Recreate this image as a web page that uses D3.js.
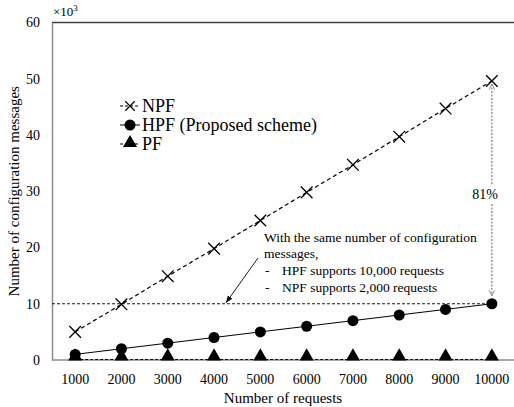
<!DOCTYPE html>
<html>
<head>
<meta charset="utf-8">
<script src="https://cdn.jsdelivr.net/npm/d3@7"></script>
<style>
  html, body { margin: 0; padding: 0; background: #fff; }
</style>
</head>
<body>
<div id="chart"></div>
<script>
'use strict';

// data (values in thousands of messages)
const requests = ["1000", "2000", "3000", "4000", "5000", "6000", "7000", "8000", "9000", "10000"];
const npfValues = [5.0, 9.9, 14.9, 19.8, 24.8, 29.8, 34.7, 39.7, 44.7, 49.6];
const hpfValues = [1.0, 2.0, 3.0, 4.0, 5.0, 6.0, 7.0, 8.0, 9.0, 10.0];
const pfValues = [0.1, 0.1, 0.1, 0.1, 0.1, 0.1, 0.1, 0.1, 0.1, 0.1];
const yTicks = [0, 10, 20, 30, 40, 50, 60];
const legendNames = ["NPF", "HPF (Proposed scheme)", "PF"];
const noteLines = ["With the same number of configuration", "messages,", "HPF supports 10,000 requests", "NPF supports 2,000 requests"];
const gapLabel = "81%";

const FONT = "'Liberation Serif', Tinos, 'Times New Roman', 'DejaVu Serif', serif";
const W = 514, H = 407;
const margin = { top: 22.5, right: -1, bottom: 47, left: 52 };

const svg = d3.select("#chart").append("svg")
    .attr("width", W).attr("height", H)
    .attr("font-family", FONT);

const defs = svg.append("defs");
defs.append("marker")
    .attr("id", "arrowSolid")
    .attr("viewBox", "0 0 10 10").attr("refX", 10).attr("refY", 5)
    .attr("markerWidth", 7).attr("markerHeight", 7)
    .attr("markerUnits", "userSpaceOnUse")
    .attr("orient", "auto")
    .append("path").attr("d", "M0,1 L10,5 L0,9 Z").attr("fill", "#000");
defs.append("marker")
    .attr("id", "arrowOpen")
    .attr("viewBox", "0 0 10 10").attr("refX", 9).attr("refY", 5)
    .attr("markerWidth", 7).attr("markerHeight", 7)
    .attr("markerUnits", "userSpaceOnUse")
    .attr("orient", "auto-start-reverse")
    .append("path").attr("d", "M1,1 L9,5 L1,9").attr("fill", "none")
    .attr("stroke", "#888").attr("stroke-width", 1.3);

// scales
const x = d3.scaleBand().domain(requests)
    .range([margin.left, W - margin.right]).padding(0);
const y = d3.scaleLinear().domain([0, 60])
    .range([H - margin.bottom, margin.top]);
const cx = d => x(d) + x.bandwidth() / 2;

// top frame line
svg.append("line")
    .attr("x1", margin.left).attr("x2", W)
    .attr("y1", y(60)).attr("y2", y(60))
    .attr("stroke", "#404040").attr("stroke-width", 1.3);

// y axis
const yAxis = svg.append("g")
    .attr("transform", "translate(" + margin.left + ",0)")
    .call(d3.axisLeft(y).tickValues(yTicks).tickSize(0).tickPadding(12));
yAxis.attr("font-family", FONT).attr("font-size", 14);
yAxis.select(".domain").attr("stroke", "#8c8c8c").attr("stroke-width", 1.5);

// x axis
const xAxis = svg.append("g")
    .attr("transform", "translate(0," + y(0) + ")")
    .call(d3.axisBottom(x).tickSize(0).tickPadding(14));
xAxis.attr("font-family", FONT).attr("font-size", 14);
xAxis.select(".domain").attr("stroke", "#8c8c8c").attr("stroke-width", 1.5)
    .attr("d", "M" + margin.left + ",0H" + W);

// axis titles
svg.append("text")
    .attr("x", 283).attr("y", 403)
    .attr("text-anchor", "middle").attr("font-size", 15)
    .text("Number of requests");
svg.append("text")
    .attr("transform", "translate(19," + ((y(0) + y(60)) / 2) + ") rotate(-90)")
    .attr("text-anchor", "middle").attr("font-size", 15)
    .text("Number of configuration messages");

// x10^3 multiplier
const mult = svg.append("text")
    .attr("x", 53).attr("y", 16).attr("font-size", 13);
mult.append("tspan").text("\u00d710");
mult.append("tspan").attr("dy", -5).attr("font-size", 9).text("3");

// reference line at HPF value for 10,000 requests
const last = requests[requests.length - 1];
svg.append("line")
    .attr("x1", margin.left).attr("x2", cx(last))
    .attr("y1", y(hpfValues[9])).attr("y2", y(hpfValues[9]))
    .attr("stroke", "#000").attr("stroke-width", 0.9)
    .attr("stroke-dasharray", "3,2");

// 81% gap arrow
const gapX = cx(last);
svg.append("line")
    .attr("x1", gapX).attr("x2", gapX)
    .attr("y1", y(npfValues[9]) + 3).attr("y2", 184)
    .attr("stroke", "#888").attr("stroke-width", 1.3)
    .attr("stroke-dasharray", "2,1.5")
    .attr("marker-start", "url(#arrowOpen)");
svg.append("line")
    .attr("x1", gapX).attr("x2", gapX)
    .attr("y1", 204).attr("y2", y(hpfValues[9]) - 8)
    .attr("stroke", "#888").attr("stroke-width", 1.3)
    .attr("stroke-dasharray", "2,1.5")
    .attr("marker-end", "url(#arrowOpen)");
svg.append("text")
    .attr("x", 485).attr("y", 199)
    .attr("text-anchor", "middle").attr("font-size", 14)
    .text(gapLabel);

// series lines
const line = d3.line().x((d, i) => cx(requests[i])).y(d => y(d));
svg.append("path").datum(pfValues)
    .attr("d", line).attr("fill", "none")
    .attr("stroke", "#000").attr("stroke-width", 1.1).attr("stroke-dasharray", "3,2");
svg.append("path").datum(hpfValues)
    .attr("d", line).attr("fill", "none")
    .attr("stroke", "#000").attr("stroke-width", 1);
svg.append("path").datum(npfValues)
    .attr("d", line).attr("fill", "none")
    .attr("stroke", "#000").attr("stroke-width", 1.2).attr("stroke-dasharray", "4,3");

// markers
const cross = d3.symbol().type(d3.symbolX).size(90);
const tri = d3.symbol().type(d3.symbolTriangle).size(85);
svg.selectAll(".npf").data(npfValues).enter().append("path")
    .attr("class", "npf")
    .attr("transform", (d, i) => "translate(" + cx(requests[i]) + "," + y(d) + ")")
    .attr("d", cross).attr("fill", "none").attr("stroke", "#000").attr("stroke-width", 1.3);
svg.selectAll(".hpf").data(hpfValues).enter().append("circle")
    .attr("class", "hpf")
    .attr("cx", (d, i) => cx(requests[i])).attr("cy", d => y(d))
    .attr("r", 5.5).attr("fill", "#000");
svg.selectAll(".pf").data(pfValues).enter().append("path")
    .attr("class", "pf")
    .attr("transform", (d, i) => "translate(" + cx(requests[i]) + "," + (y(d) - 3) + ")")
    .attr("d", tri).attr("fill", "#000");

// legend
const legendY = [106, 125, 144];
const lg = svg.append("g");
legendNames.forEach((name, i) => {
    const ly = legendY[i];
    lg.append("line")
        .attr("x1", 120).attr("x2", 140).attr("y1", ly).attr("y2", ly)
        .attr("stroke", "#000").attr("stroke-width", 1)
        .attr("stroke-dasharray", i === 1 ? null : "3,2");
    if (i === 0) {
        lg.append("path").attr("transform", "translate(130," + ly + ")")
            .attr("d", d3.symbol().type(d3.symbolX).size(60))
            .attr("fill", "none").attr("stroke", "#000").attr("stroke-width", 1.2);
    } else if (i === 1) {
        lg.append("circle").attr("cx", 130).attr("cy", ly).attr("r", 5.5).attr("fill", "#000");
    } else {
        lg.append("path").attr("transform", "translate(130," + (ly - 1) + ")")
            .attr("d", tri).attr("fill", "#000");
    }
    lg.append("text")
        .attr("x", 142).attr("y", ly + 6)
        .attr("font-size", 18)
        .text(name);
});

// annotation text + arrow
const note = svg.append("g").attr("font-size", 13.5);
const noteY = [242, 258, 275, 292];
noteLines.forEach((t, i) => {
    if (i < 2) {
        note.append("text").attr("x", 264).attr("y", noteY[i]).text(t);
    } else {
        note.append("text").attr("x", 265).attr("y", noteY[i]).text("-");
        note.append("text").attr("x", 282).attr("y", noteY[i]).text(t);
    }
});
svg.append("line")
    .attr("x1", 258).attr("y1", 258)
    .attr("x2", 226).attr("y2", y(hpfValues[9]) - 1)
    .attr("stroke", "#000").attr("stroke-width", 0.9)
    .attr("marker-end", "url(#arrowSolid)");
</script>
</body>
</html>
